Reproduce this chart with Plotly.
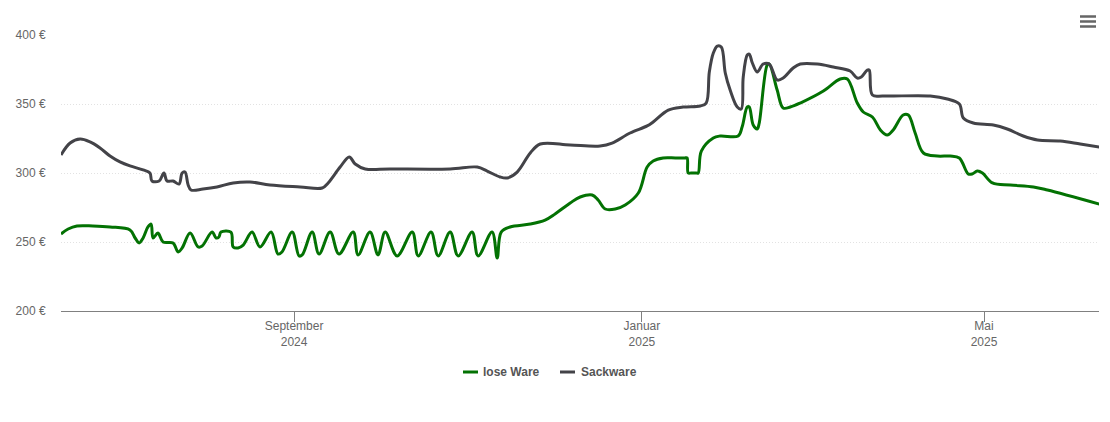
import pandas as pd
import plotly.graph_objects as go

# days since the left edge of the chart
START = pd.Timestamp("2024-06-11 06:00")
END = pd.Timestamp("2025-06-10 08:00")

sack_days = [
    0, 3.2, 6.7, 10.2, 13.7, 17.2, 20.7, 24.2, 28.8, 31.2, 31.9, 34.4, 36.1, 37.2, 39.3, 41.4,
    42.5, 43.5, 44.6, 45.6, 49.8, 54.7, 60.4, 66.3, 73.3, 83.9, 91.6, 93.7, 97.9, 101.1, 103.2,
    106.7, 115.4, 136.5, 146, 149.5, 154, 156.5, 160, 164.6, 168.1, 178.6, 189.1, 193.3, 199.6,
    205.6, 207.7, 213, 218.2, 224.2, 226.3, 227.4, 228.8, 230.2, 231.6, 233, 234.7, 237.2, 238.6,
    239.3, 240.7, 241.4, 242.5, 244.2, 246.3, 248.4, 251.2, 253.3, 256.8, 259.3, 265.3, 270.9,
    276.8, 279.3, 280.7, 282.8, 283.5, 284.6, 288.4, 304.9, 310.9, 315.1, 316.5, 320, 327, 331.9,
    337.5, 342.5, 350.5, 357.5, 364.2,
]
sack_prices = [
    313, 321.7, 324.6, 322.5, 318.1, 312.3, 308, 305.1, 302.2, 300, 294.2, 294.2, 300, 294.2, 294.2, 292,
    300, 300.7, 291.3, 287.7, 288.4, 289.9, 292.8, 293.5, 291.3, 289.9, 289.1, 292.8, 304.3, 311.6, 306.5,
    302.9, 302.9, 302.9, 304.3, 301.4, 297.1, 296.4, 300.7, 314.5, 321, 320.3, 319.6, 321.7, 329,
    334.1, 337, 345.6, 347.8, 348.6, 350.7, 373.2, 386.9, 392, 391.3, 372.5, 360.1, 347.8, 346.4,
    369.6, 385.5, 386.2, 379.7, 373.2, 379, 379, 367.4, 368.8, 376.1, 379, 379, 376.8,
    373.9, 368.8, 369.6, 374.6, 374.6, 356.5, 355.8, 355.8, 353.6, 350, 339.9, 336.2, 334.8, 331.9,
    326.8, 323.9, 323.2, 321, 318.8,
]

lose_days = [
    0, 2.5, 5.6, 11.2, 17.2, 24.2, 26, 27.4, 28.8, 30.5, 31.6, 32.3, 34, 35.8, 39.3, 41.1, 42.5,
    45.3, 48.1, 49.5, 53, 54.4, 55.4, 56.1, 59.6, 60.4, 62.1, 63.9, 67, 69.8, 73.7, 76.1, 77.5,
    81.1, 83.5, 84.6, 88.1, 90.5, 94.4, 97.5, 102.5, 104.2, 108.4, 111.2, 113.7, 117.9, 123.2,
    125.3, 129.8, 132.3, 136.5, 139.3, 144.2, 146.3, 151.2, 153, 154.4, 157.5, 164.6, 169.8,
    173.3, 178.6, 182.1, 186.3, 188.4, 190.9, 194.4, 197.9, 202.5, 205.6, 207.7, 211.2, 215.5, 218.8, 219.6,
    220, 221, 222.8, 223.5, 224.6, 228.8, 231.2, 237.5, 238.9, 240.7, 241.4, 242.8, 244.2, 244.9, 247.7,
    248.4, 251.2, 253.3, 255.8, 259.3, 267.4, 273.3, 275.8, 279.3, 281.4, 284.6, 287.4, 289.8,
    291.9, 295.4, 297.2, 299.6, 302.5, 307.4, 311.9, 315.1, 318.2, 319.6, 321.4, 323.2, 326.7,
    333, 341.1, 346, 364.2,
]
lose_prices = [
    255.8, 259.4, 261.6, 261.6, 260.9, 258.7, 252.9, 249.3, 252.9, 260.9, 263, 252.9, 256.5, 250, 249.3, 242.8, 245.7,
    256.5, 246.4, 247.1, 257.2, 252.9, 253.6, 257.2, 257.2, 246.4, 245.7, 247.8, 257.2, 246.4, 257.2, 241.3, 242.8,
    257.2, 239.9, 240.6, 257.2, 241.3, 257.2, 241.3, 257.2, 240.6, 257.2, 240.6, 257.2, 239.9, 257.2,
    239.9, 257.2, 239.9, 257.2, 239.9, 257.2, 239.9, 257.2, 238.4, 257.2, 260.9, 263, 265.9,
    270.3, 278.3, 282.6, 284.1, 280.4, 273.9, 273.9, 276.8, 285.5, 304.3, 308.7, 310.9, 310.9, 310.9, 310.9,
    300, 300, 300, 300, 315.9, 325.4, 326.8, 326.8, 333.3, 347.8, 347.8, 334.8, 331.9, 336.2, 378.2,
    379, 360.1, 347.1, 347.8, 350.7, 359.4, 368.1, 368.1, 350.7, 344.2, 340.6, 331.2, 327.5,
    331.2, 342, 342, 329, 314.5, 312.3, 312.3, 310.9, 299.3, 299.3, 301.4, 300, 292.8,
    291.3, 289.9, 287.7, 277.5,
]

y_ticks = [200, 250, 300, 350, 400]
y_labels = ["200 €", "250 €", "300 €", "350 €", "400 €"]
x_ticks = ["2024-09-01", "2025-01-01", "2025-05-01"]
x_labels = ["September<br>2024", "Januar<br>2025", "Mai<br>2025"]

GREEN = "#037203"
DARK = "#434348"


def to_dates(days):
    return [START + pd.Timedelta(days=d) for d in days]


def px_x(px):
    return (px - 61) / 1038


def px_y(py):
    return (311 - py) / 276


def hline(x0, x1, py, color, width):
    return dict(type="line", xref="paper", yref="paper", x0=px_x(x0), x1=px_x(x1),
                y0=px_y(py), y1=px_y(py), line=dict(color=color, width=width))


fig = go.Figure()
fig.add_trace(go.Scatter(
    x=to_dates(lose_days), y=lose_prices, name="lose Ware", mode="lines",
    line=dict(color=GREEN, width=3, shape="spline", smoothing=1.0),
))
fig.add_trace(go.Scatter(
    x=to_dates(sack_days), y=sack_prices, name="Sackware", mode="lines",
    line=dict(color=DARK, width=3, shape="spline", smoothing=1.0),
))

# burger menu icon and the short legend keys
shapes = [hline(1080, 1096, py, "#666666", 2.5) for py in (16.5, 21.5, 26.5)]
shapes += [hline(463, 478, 372, GREEN, 3), hline(560, 575, 372, DARK, 3)]

legend_text = [
    dict(text="<b>lose Ware</b>", x=px_x(483)),
    dict(text="<b>Sackware</b>", x=px_x(581)),
]
annotations = [
    dict(xref="paper", yref="paper", y=px_y(372), xanchor="left", yanchor="middle", xshift=-2,
         showarrow=False, font=dict(size=12, color="#555555"), **item)
    for item in legend_text
]

fig.update_layout(
    width=1110,
    height=422,
    margin=dict(l=53, r=19, t=27, b=119),
    paper_bgcolor="white",
    plot_bgcolor="white",
    font=dict(family="Liberation Sans", size=12, color="#666666"),
    showlegend=False,
    shapes=shapes,
    annotations=annotations,
    xaxis=dict(
        range=[START, END], tickmode="array", tickvals=x_ticks, ticktext=x_labels,
        showgrid=False, showline=True, linecolor="#808080", linewidth=1, automargin=False,
        ticks="outside", ticklen=10, tickcolor="#808080", zeroline=False, ticklabelstandoff=-6,
    ),
    yaxis=dict(
        range=[200, 400], tickmode="array", tickvals=y_ticks, ticktext=y_labels, automargin=False,
        showgrid=True, gridcolor="#e2e2e2", griddash="1px,2px", gridwidth=1,
        showline=False, zeroline=False, ticks="outside", ticklen=12, tickcolor="rgba(0,0,0,0)",
    ),
)

fig.write_html("out.html", config={"displayModeBar": False})
